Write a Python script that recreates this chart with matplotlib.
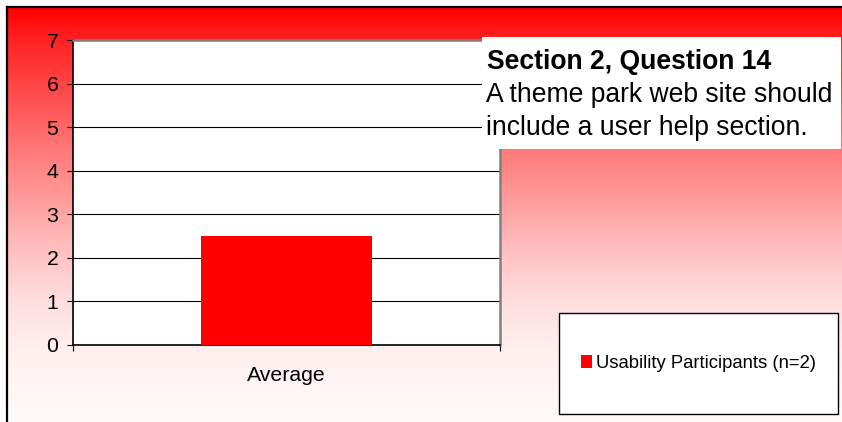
import numpy as np
import matplotlib.pyplot as plt
from matplotlib.patches import Rectangle
from matplotlib.lines import Line2D

plt.rcParams['font.family'] = ['Liberation Sans', 'DejaVu Sans']

# Data
categories = ["Average"]
values = [2.5]
series_name = "Usability Participants (n=2)"
yticks = [0, 1, 2, 3, 4, 5, 6, 7]
title_bold = "Section 2, Question 14"
title_lines = ["A theme park web site should", "include a user help section."]

W, H = 842, 422


def fx(x):
    return x / W


def fy(y):
    return 1 - y / H


fig = plt.figure(figsize=(W / 100, H / 100), dpi=100)

# Background gradient (red at top fading to white)
bg = fig.add_axes([0, 0, 1, 1], zorder=-5)
bg.set_xlim(0, W)
bg.set_ylim(H, 0)
bg.axis("off")
stops_t = [0.0, 0.08, 0.22, 0.34, 0.58, 0.70, 0.83, 1.0]
stops_v = [0, 35, 80, 120, 190, 220, 240, 250]
t = np.linspace(0, 1, 400)
v = np.interp(t, stops_t, stops_v) / 255
grad = np.ones((400, 1, 3))
grad[:, 0, 1] = v
grad[:, 0, 2] = v
bg.imshow(grad, extent=[8, W, H, 8], aspect="auto", interpolation="bilinear")
fig.add_artist(Line2D([fx(7), fx(W)], [fy(7), fy(7)], color="black", lw=1.6))
fig.add_artist(Line2D([fx(7), fx(7)], [fy(7), fy(H)], color="black", lw=1.6))

# Main plot
ax = fig.add_axes([fx(73), fy(345), fx(500) - fx(73), fy(40) - fy(345)])
ax.set_facecolor("white")
x = np.arange(len(categories))
bars = ax.bar(x, values, width=0.4, color="#FF0000", label=series_name, zorder=3)
ax.set_xlim(-0.5, 0.5)
ax.set_ylim(0, 7)
ax.set_yticks(yticks)
ax.yaxis.grid(True, color="black", lw=0.8)
ax.set_axisbelow(True)
ax.tick_params(axis="y", direction="out", length=4.5, width=0.8, pad=6, labelsize=15.3)
ax.set_xticks([-0.5, 0.5])
ax.set_xticklabels([])
ax.set_xticks(x, minor=True)
ax.set_xticklabels(categories, minor=True)
ax.tick_params(axis="x", which="major", direction="out", length=4.5, width=0.8)
ax.tick_params(axis="x", which="minor", length=0, pad=15, labelsize=15.3)
for s in ["top", "right"]:
    ax.spines[s].set_color("#808080")
    ax.spines[s].set_linewidth(1.8)
for s in ["left", "bottom"]:
    ax.spines[s].set_color("black")
    ax.spines[s].set_linewidth(1.2)

# Title box
fig.add_artist(Rectangle((fx(482), fy(149)), fx(841) - fx(482), fy(37) - fy(149),
                         transform=fig.transFigure, facecolor="white", edgecolor="none", zorder=2))
fig.text(fx(487), fy(69), title_bold, fontsize=19.1, fontweight="bold", va="baseline", zorder=3)
fig.text(fx(486), fy(102), title_lines[0], fontsize=19.1, va="baseline", zorder=3)
fig.text(fx(486), fy(135), title_lines[1], fontsize=19.1, va="baseline", zorder=3)

# Legend box
lx0, ly0, lx1, ly1 = 559, 313, 838, 414
fig.add_artist(Rectangle((fx(lx0), fy(ly1)), fx(lx1) - fx(lx0), fy(ly0) - fy(ly1),
                         transform=fig.transFigure, facecolor="white", edgecolor="black",
                         lw=1.0, zorder=2))
leg = fig.legend(handles=[bars], labels=[series_name], loc="center",
                 bbox_to_anchor=(fx(lx0), fy(ly1), fx(lx1) - fx(lx0), fy(ly0) - fy(ly1)),
                 frameon=False, fontsize=13.3, handlelength=0.64, handleheight=0.64,
                 handletextpad=0.22)
leg.set_zorder(3)

plt.savefig("out.png", dpi=100)
